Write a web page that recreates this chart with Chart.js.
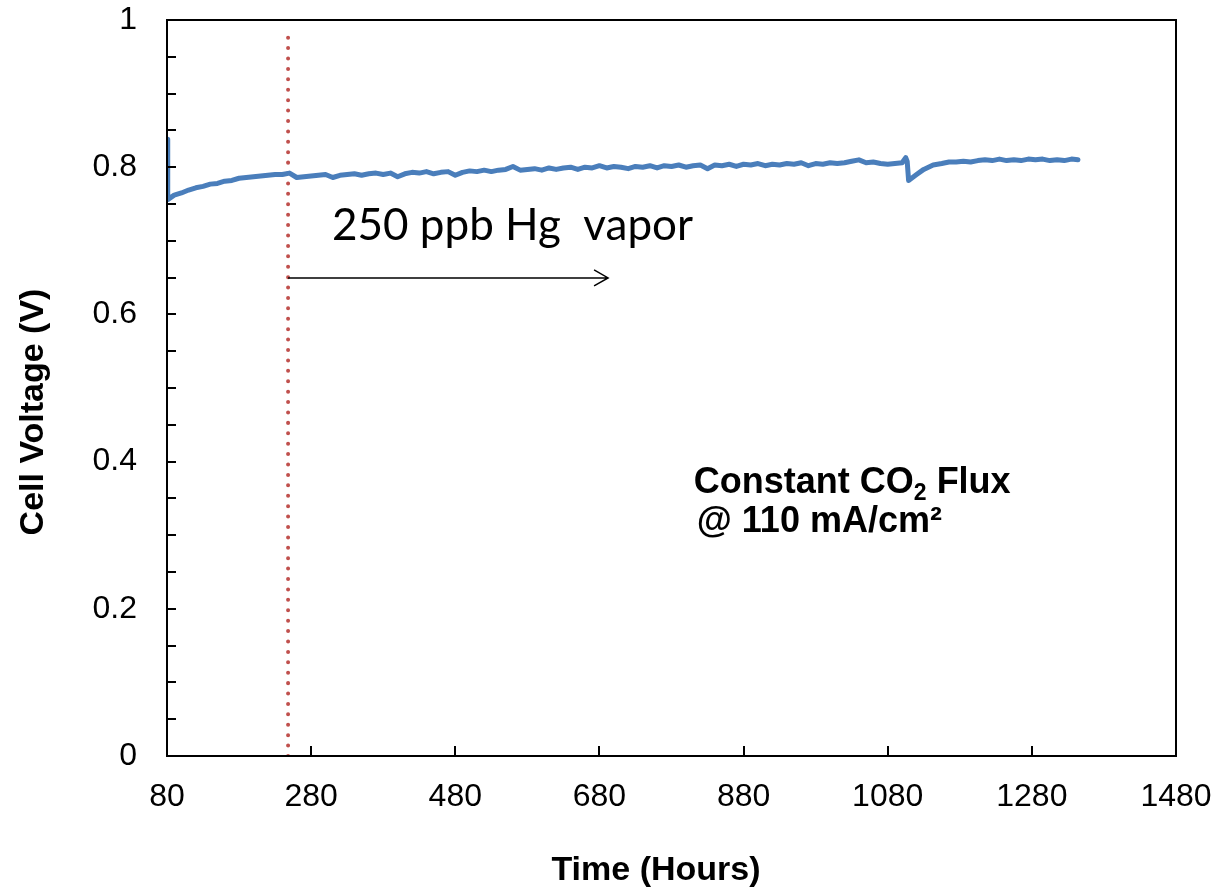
<!DOCTYPE html>
<html>
<head>
<meta charset="utf-8">
<script src="https://cdn.jsdelivr.net/npm/chart.js@4.4.1/dist/chart.umd.min.js"></script>
<style>
  html, body { margin: 0; padding: 0; background: #fff; }
</style>
</head>
<body>
<canvas id="voltageChart" width="1220" height="891"></canvas>
<script>
// time on test (hours) and measured cell voltage (V)
const hours = [
  80, 81, 90, 100, 110, 120, 130, 140, 150, 160, 170, 180, 190, 200, 210, 220, 230, 240, 250,
  260, 270, 280, 290, 300, 310, 320, 330, 340, 350, 360, 370, 380, 390, 400, 410, 420, 430,
  440, 450, 460, 470, 480, 490, 500, 510, 520, 530, 540, 550, 560, 570, 580, 590, 600, 610,
  620, 630, 640, 650, 660, 670, 680, 690, 700, 710, 720, 730, 740, 750, 760, 770, 780, 790,
  800, 810, 820, 830, 840, 850, 860, 870, 880, 890, 900, 910, 920, 930, 940, 950, 960, 970,
  980, 990, 1000, 1010, 1020, 1030, 1040, 1050, 1060, 1070, 1080, 1090, 1100, 1105, 1107,
  1109, 1120, 1130, 1143, 1155, 1165, 1175, 1185, 1195, 1205, 1215, 1225, 1235, 1245, 1255,
  1265, 1275, 1285, 1295, 1305, 1315, 1325, 1335, 1344
];
const voltage = [
  0.838, 0.756, 0.762, 0.765, 0.769, 0.772, 0.774, 0.777, 0.778, 0.781, 0.782, 0.785, 0.786,
  0.787, 0.788, 0.789, 0.790, 0.790, 0.792,
  0.786, 0.787, 0.788, 0.789, 0.790, 0.786, 0.789, 0.790, 0.791, 0.789, 0.791, 0.792, 0.790,
  0.792, 0.787, 0.791, 0.793, 0.792, 0.794, 0.791, 0.793, 0.794, 0.789, 0.793, 0.795, 0.794,
  0.796, 0.794, 0.796, 0.797, 0.801, 0.796, 0.797, 0.798, 0.796, 0.799, 0.797, 0.799, 0.800,
  0.797, 0.800, 0.799, 0.802, 0.799, 0.801, 0.800, 0.798, 0.801, 0.800, 0.802, 0.799, 0.802,
  0.801, 0.803, 0.800, 0.802, 0.803, 0.798, 0.803, 0.802, 0.804, 0.801, 0.804, 0.803, 0.805,
  0.802, 0.804, 0.803, 0.805, 0.804, 0.806, 0.802, 0.805, 0.804, 0.806, 0.805, 0.806, 0.808,
  0.810, 0.806, 0.807, 0.805, 0.804, 0.805, 0.806, 0.813, 0.808,
  0.782, 0.790, 0.797, 0.803, 0.805, 0.807, 0.807, 0.808, 0.807, 0.809, 0.810, 0.809, 0.811,
  0.809, 0.810, 0.809, 0.811, 0.810, 0.811, 0.809, 0.810, 0.809, 0.811, 0.810
];

// Hg exposure start marker
const hgStartHour = 248;
const markerHours = [hgStartHour, hgStartHour];
const markerVolts = [0, 0.988];

// axis ticks
const xTicks = [80, 280, 480, 680, 880, 1080, 1280, 1480];
const yTicks = [0, 0.2, 0.4, 0.6, 0.8, 1];
const yMinorStep = 0.05;

const axisFont = '"Liberation Sans", Arial, sans-serif';

// frame box with inward tick marks, like the spreadsheet original
const framePlugin = {
  id: 'frame',
  afterDatasetsDraw(chart) {
    const { ctx, chartArea: a, scales: { x, y } } = chart;
    ctx.save();
    ctx.strokeStyle = '#000';
    ctx.lineWidth = 2;
    ctx.strokeRect(a.left, a.top, a.right - a.left, a.bottom - a.top);
    ctx.beginPath();
    for (let v = 0; v <= 1.0001; v += yMinorStep) {
      const py = Math.round(y.getPixelForValue(v));
      ctx.moveTo(a.left, py);
      ctx.lineTo(a.left + 9, py);
    }
    xTicks.forEach((t) => {
      const px = Math.round(x.getPixelForValue(t));
      ctx.moveTo(px, a.bottom);
      ctx.lineTo(px, a.bottom - 10);
    });
    ctx.stroke();

    // axis titles
    ctx.fillStyle = '#000';
    ctx.font = 'bold 34px ' + axisFont;
    ctx.textAlign = 'center';
    ctx.textBaseline = 'middle';
    ctx.fillText('Time (Hours)', 656, 871);
    ctx.translate(34, 412);
    ctx.rotate(-Math.PI / 2);
    ctx.fillText('Cell Voltage (V)', 0, 0);
    ctx.restore();
  },
};

// text notes and the exposure arrow
const notesPlugin = {
  id: 'notes',
  afterDatasetsDraw(chart) {
    const { ctx, scales: { x, y } } = chart;
    ctx.save();
    ctx.fillStyle = '#000';
    ctx.textBaseline = 'alphabetic';
    ctx.textAlign = 'left';

    ctx.font = '44px Lato, "Open Sans", sans-serif';
    ctx.fillText('250 ppb Hg  vapor', x.getPixelForValue(309), y.getPixelForValue(0.7015));

    // arrow
    const ay = y.getPixelForValue(0.6495);
    const ax0 = x.getPixelForValue(hgStartHour);
    const ax1 = x.getPixelForValue(692);
    ctx.strokeStyle = '#000';
    ctx.lineWidth = 1.5;
    ctx.beginPath();
    ctx.moveTo(ax0, ay);
    ctx.lineTo(ax1, ay);
    ctx.moveTo(ax1 - 14, ay - 8);
    ctx.lineTo(ax1, ay);
    ctx.lineTo(ax1 - 14, ay + 8);
    ctx.stroke();

    // Constant CO2 Flux @ 110 mA/cm2
    let tx = x.getPixelForValue(811);
    const ty = y.getPixelForValue(0.358);
    ctx.font = 'bold 36px ' + axisFont;
    ctx.fillText('Constant CO', tx, ty);
    tx += ctx.measureText('Constant CO').width;
    ctx.font = 'bold 23px ' + axisFont;
    ctx.fillText('2', tx, ty + 7);
    tx += ctx.measureText('2').width;
    ctx.font = 'bold 36px ' + axisFont;
    ctx.fillText(' Flux', tx, ty);
    ctx.fillText('@ 110 mA/cm²', x.getPixelForValue(815), y.getPixelForValue(0.3043));
    ctx.restore();
  },
};

const ctx = document.getElementById('voltageChart').getContext('2d');
// eslint-disable-next-line no-undef, no-unused-vars
const chart = new Chart(ctx, {
  type: 'line',
  data: {
    datasets: [
      {
        label: 'Cell voltage',
        data: hours.map((h, i) => ({ x: h, y: voltage[i] })),
        borderColor: '#4A7EBB',
        borderWidth: 5,
        pointRadius: 0,
        tension: 0,
        borderJoinStyle: 'round',
        borderCapStyle: 'round',
      },
      {
        label: 'Hg start',
        data: markerHours.map((h, i) => ({ x: h, y: markerVolts[i] })),
        borderColor: '#C0504D',
        borderWidth: 4,
        borderDash: [0.01, 10.4],
        borderCapStyle: 'round',
        pointRadius: 0,
      },
    ],
  },
  options: {
    responsive: false,
    animation: false,
    devicePixelRatio: 1,
    layout: { padding: { top: 20, right: 44, left: 0, bottom: 0 } },
    plugins: {
      legend: { display: false },
      tooltip: { enabled: false },
    },
    scales: {
      x: {
        type: 'linear',
        min: 80,
        max: 1480,
        afterBuildTicks: (scale) => { scale.ticks = xTicks.map((v) => ({ value: v })); },
        afterFit: (scale) => {
          scale.height = 135;
          scale.paddingLeft = 0;
          scale.paddingRight = 0;
        },
        ticks: {
          color: '#000',
          font: { family: axisFont, size: 32 },
          padding: 14,
          maxRotation: 0,
          autoSkip: false,
          callback: (v) => String(v),
        },
        grid: { display: false },
        border: { display: false },
      },
      y: {
        min: 0,
        max: 1,
        afterBuildTicks: (scale) => { scale.ticks = yTicks.map((v) => ({ value: v })); },
        afterFit: (scale) => {
          scale.width = 167;
          scale.paddingTop = 0;
          scale.paddingBottom = 0;
        },
        ticks: {
          color: '#000',
          font: { family: axisFont, size: 32 },
          padding: 22,
          callback: (v) => String(Math.round(v * 10) / 10),
        },
        grid: { display: false },
        border: { display: false },
      },
    },
  },
  plugins: [framePlugin, notesPlugin],
});
</script>
</body>
</html>
